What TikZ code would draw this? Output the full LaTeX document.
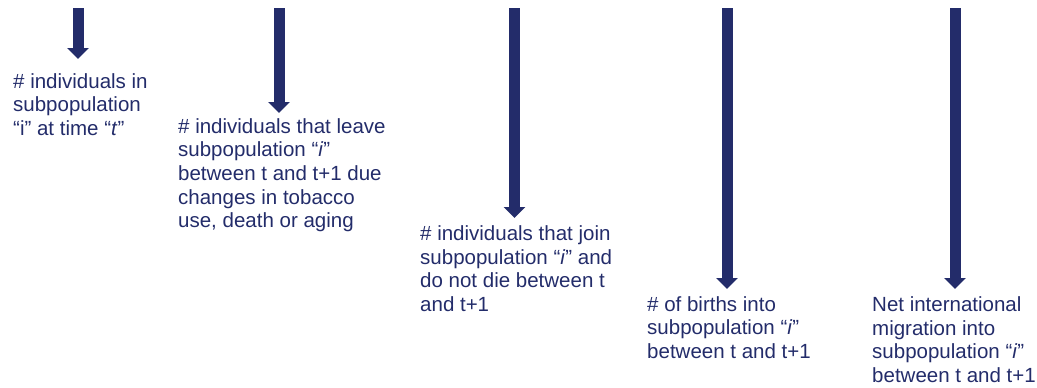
\documentclass[tikz,border=0pt]{standalone}
\usepackage{fontspec}
\setmainfont{Liberation Sans}
\usetikzlibrary{arrows.meta}
\definecolor{navy}{RGB}{35,44,106}
\begin{document}
\begin{tikzpicture}[x=1pt,y=-1pt,
  flowarrow/.style={draw=navy,line width=11pt,line cap=butt,
    -{Triangle[width=21pt,length=11pt]}},
  term/.style={anchor=base west,inner sep=0pt,align=left,text=navy,
    font=\fontsize{20.5pt}{23.6pt}\selectfont}]
  \useasboundingbox (0,0) rectangle (1037,388);

  % arrow end points
  \coordinate (s1) at (78,8);   \coordinate (e1) at (78,59);
  \coordinate (s2) at (279,8);  \coordinate (e2) at (279,113);
  \coordinate (s3) at (514.5,8);\coordinate (e3) at (514.5,218);
  \coordinate (s4) at (727,8);  \coordinate (e4) at (727,289);
  \coordinate (s5) at (955,8);  \coordinate (e5) at (955,289);

  % terms of the balance equation (placed by the baseline of their last line)
  \node[term] (t1) at (13,135.2)
    {\# individuals in\\subpopulation\\“i” at time “\textit{t}”};
  \node[term] (t2) at (178,227.6)
    {\# individuals that leave\\subpopulation “\textit{i}”\\between t and t+1 due\\changes in tobacco\\use, death or aging};
  \node[term] (t3) at (420,311.5)
    {\# individuals that join\\subpopulation “\textit{i}” and\\do not die between t\\and t+1};
  \node[term] (t4) at (647,358.5)
    {\# of births into\\subpopulation “\textit{i}”\\between t and t+1};
  \node[term] (t5) at (872,382.5)
    {Net international\\migration into\\subpopulation “\textit{i}”\\between t and t+1};

  % downward arrows
  \draw[flowarrow] (s1) -- (e1);
  \draw[flowarrow] (s2) -- (e2);
  \draw[flowarrow] (s3) -- (e3);
  \draw[flowarrow] (s4) -- (e4);
  \draw[flowarrow] (s5) -- (e5);
\end{tikzpicture}
\end{document}
